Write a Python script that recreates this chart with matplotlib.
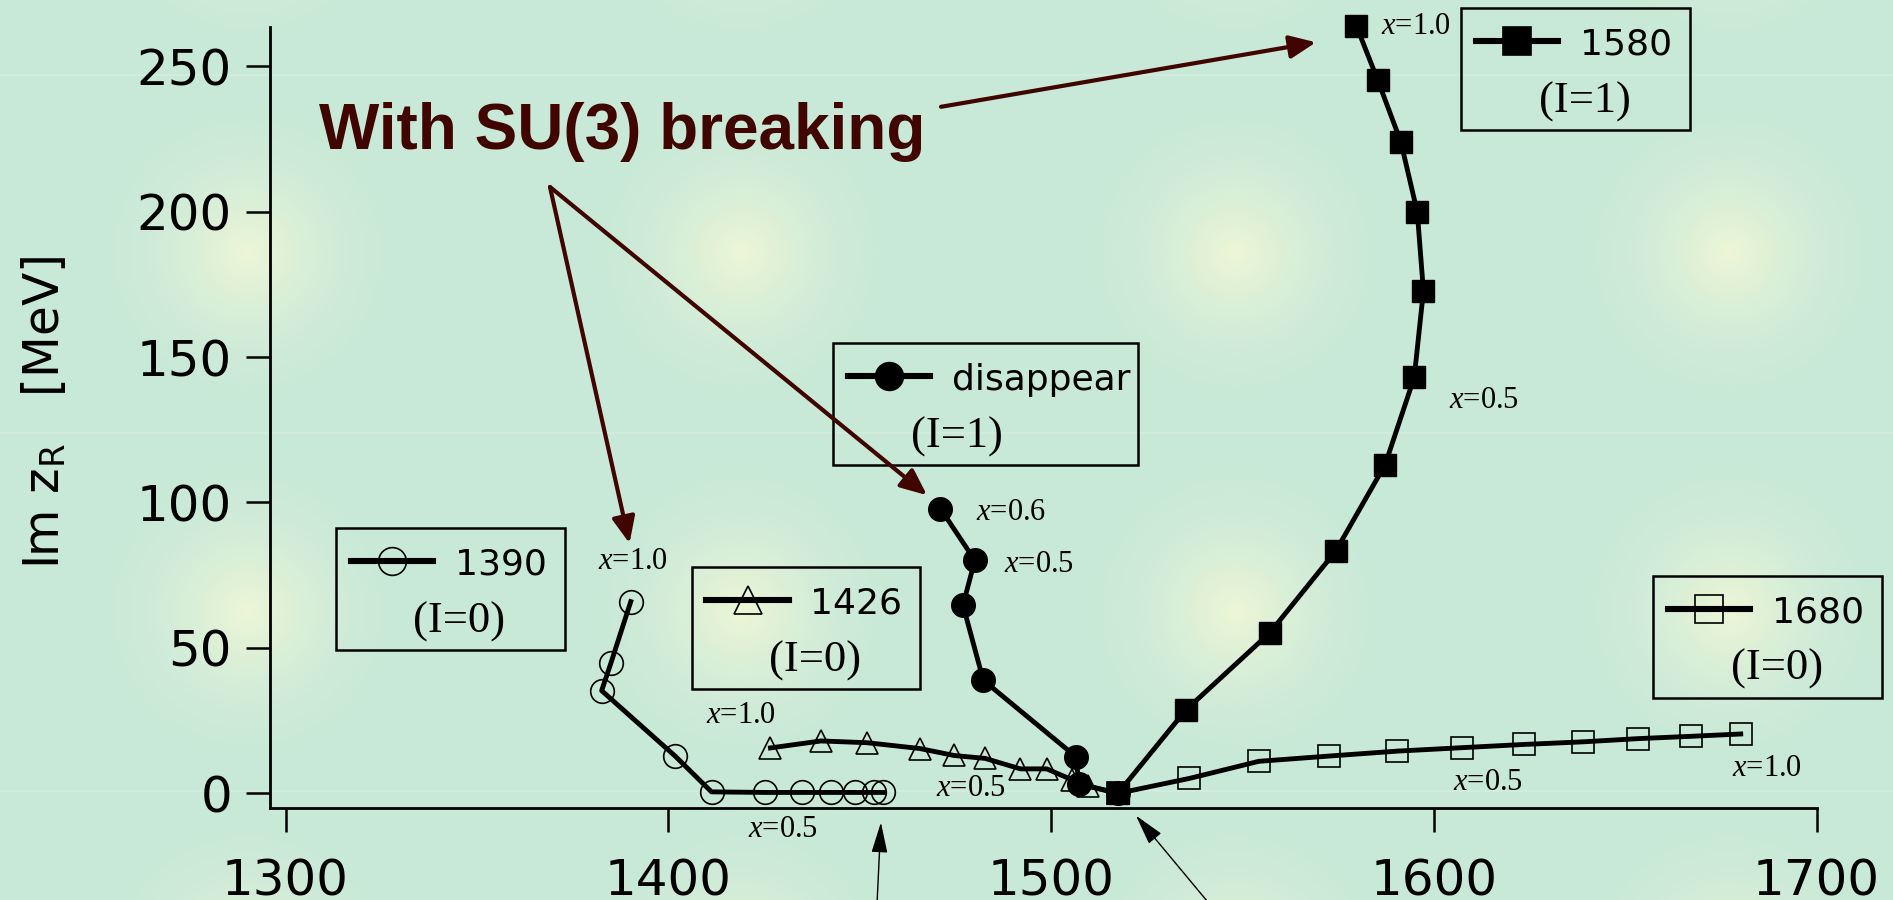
import numpy as np
import matplotlib
matplotlib.use("Agg")
import matplotlib.pyplot as plt
from matplotlib.patches import Rectangle, FancyArrowPatch
from matplotlib.lines import Line2D
from matplotlib.transforms import Affine2D

# ---------------- pole trajectories (Re z_R, Im z_R) in MeV ----------------
mass_1390 = [1390.2, 1385.0, 1382.6, 1401.8, 1411.3, 1425.2, 1435.0, 1442.6, 1448.7, 1453.8, 1456.2]
width_1390 = [65.9, 44.7, 35.3, 12.8, 0.5, 0.3, 0.3, 0.3, 0.3, 0.3, 0.3]

mass_1426 = [1426.7, 1439.9, 1451.9, 1465.7, 1474.7, 1482.8, 1492.0, 1498.9, 1505.4, 1509.7, 1517.5]
width_1426 = [15.6, 18.0, 17.4, 15.4, 13.0, 12.0, 8.4, 8.4, 4.7, 2.5, 0.0]

mass_dis = [1471.1, 1480.1, 1477.0, 1482.3, 1506.5, 1507.3, 1517.5]
width_dis = [97.9, 80.1, 64.7, 38.9, 12.6, 3.2, 0.0]

mass_1580 = [1517.5, 1535.2, 1557.1, 1574.4, 1587.3, 1594.9, 1597.3, 1595.7, 1591.4, 1585.4, 1579.8]
width_1580 = [0.0, 28.6, 55.1, 83.3, 113.0, 143.0, 172.7, 199.8, 224.0, 245.1, 263.8]

mass_1680 = [1517.5, 1536.1, 1554.3, 1572.6, 1590.4, 1607.5, 1623.6, 1639.0, 1653.4, 1667.3, 1680.2]
width_1680 = [0.0, 5.1, 11.0, 12.8, 14.5, 15.7, 16.8, 17.7, 18.8, 19.6, 20.4]

x_ticks = [1300, 1400, 1500, 1600, 1700]
y_ticks = [0, 50, 100, 150, 200, 250]

# parameter labels along the trajectories: (text, Re z, Im z)
x_labels = [
    ("$x$=1.0", 1390.8, 79.6),
    ("$x$=1.0", 1419.1, 26.9),
    ("$x$=0.5", 1429.9, -12.6),
    ("$x$=0.5", 1479.2, 1.8),
    ("$x$=0.6", 1489.5, 96.6),
    ("$x$=0.5", 1496.8, 78.8),
    ("$x$=1.0", 1595.4, 263.5),
    ("$x$=0.5", 1613.1, 135.2),
    ("$x$=0.5", 1614.3, 3.8),
    ("$x$=1.0", 1687.0, 8.6),
]

plt.rcParams.update({
    "font.family": ["DejaVu Sans"],
    "mathtext.fontset": "custom",
    "mathtext.it": "Liberation Serif:italic",
    "mathtext.rm": "Liberation Serif",
})

W, H = 1893, 900
fig = plt.figure(figsize=(W / 100, H / 100), dpi=100)

# ---------------- slide background: mint with soft tiled glows ----------------
yy, xx = np.mgrid[0:H, 0:W].astype(float)
dx = ((xx - 247 + 247) % 494) - 247
dy = ((yy - 253 + 179) % 358) - 179
r = np.hypot(dx, dy)
wgt = np.clip(1 - r / 150.0, 0, 1) ** 1.7
base = np.array([201, 233, 216]) / 255.0
glow = np.array([238, 246, 214]) / 255.0
bg = base[None, None, :] + (glow - base)[None, None, :] * wgt[..., None]
seam = (((yy - 74) % 358) < 1.5)
bg[seam] = bg[seam] * 0.6 + np.array([222, 241, 230]) / 255.0 * 0.4
fig.figimage(np.clip(bg, 0, 1), xo=0, yo=0, origin="upper", zorder=-5)

# pixel-space transform (origin top-left, y down) for annotation layout
pix = Affine2D().scale(1 / W, -1 / H).translate(0, 1) + fig.transFigure

# ---------------- axes ----------------
ax = fig.add_axes([270 / W, 1 - 808 / H, (1816.5 - 270) / W, (808 - 26.6) / H])
ax.patch.set_visible(False)
ax.set_xlim(1295.95, 1700)
ax.set_ylim(-5.05, 263.6)
for s in ("top", "right"):
    ax.spines[s].set_visible(False)
for s in ("left", "bottom"):
    ax.spines[s].set_linewidth(2.0)
ax.set_xticks(x_ticks)
ax.set_yticks(y_ticks)
ax.tick_params(direction="out", length=17.3, width=1.8, labelsize=36, colors="k")
ax.tick_params(axis="x", pad=18)
ax.tick_params(axis="y", pad=10)

lw = 3.5
ax.plot(mass_1390, width_1390, "-", color="k", lw=lw, marker="o", ms=17,
        mfc="none", mec="k", mew=1.2, clip_on=False, zorder=3)
ax.plot(mass_1426, width_1426, "-", color="k", lw=lw, marker="^", ms=16.5,
        mfc="none", mec="k", mew=1.2, clip_on=False, zorder=3)
ax.plot(mass_dis, width_dis, "-", color="k", lw=lw, marker="o", ms=17,
        mfc="k", mec="k", clip_on=False, zorder=4)
ax.plot(mass_1680, width_1680, "-", color="k", lw=lw, marker="s", ms=16,
        mfc="none", mec="k", mew=1.2, clip_on=False, zorder=4)
ax.plot(mass_1580, width_1580, "-", color="k", lw=lw, marker="s", ms=16,
        mfc="k", mec="k", clip_on=False, zorder=5)

for txt, xv, yv in x_labels:
    ax.text(xv, yv, txt, ha="center", va="center", fontsize=22,
            family="Liberation Serif", clip_on=False, zorder=6)

# ---------------- key boxes ----------------
def key(left, top, width, marker, filled, name, iso):
    fig.add_artist(Rectangle((left, top), width, 121.7, transform=pix,
                             fill=False, ec="k", lw=1.8))
    fig.add_artist(Line2D([left + 14.5, left + 56, left + 97], [top + 33] * 3,
                          transform=pix, color="k", lw=4.4, marker=marker,
                          markevery=[1], ms=20, mfc="k" if filled else "none",
                          mec="k", mew=1.2))
    fig.text(left + 119, top + 46.5, name, transform=pix, ha="left",
             va="baseline", fontsize=26)
    fig.text(left + 123.5, top + 104, iso, transform=pix, ha="center",
             va="baseline", fontsize=32, family="Liberation Serif")

key(336.0, 528.3, 228.7, "o", False, "1390", "(I=0)")
key(691.5, 567.1, 228.0, "^", False, "1426", "(I=0)")
key(833.3, 343.2, 304.7, "o", True, "disappear", "(I=1)")
key(1461.2, 8.3, 228.8, "s", True, "1580", "(I=1)")
key(1653.1, 576.0, 228.4, "s", False, "1680", "(I=0)")

# ---------------- headline and pointers ----------------
maroon = "#410500"
fig.text(319, 149, "With SU(3) breaking", transform=pix, ha="left",
         va="baseline", family="Liberation Sans", weight="bold",
         fontsize=46, color=maroon)

def arrow(p0, p1, color, lw, hl, hw):
    fig.add_artist(FancyArrowPatch(p0, p1, transform=pix,
                                   arrowstyle=f"-|>,head_length={hl},head_width={hw}",
                                   mutation_scale=1, lw=lw, color=color,
                                   shrinkA=0, shrinkB=0))

arrow((941.0, 106.8), (1316.0, 42.3), maroon, 3.0, 16, 7)
arrow((550.0, 187.0), (629.5, 543.3), maroon, 3.0, 16, 7)
arrow((550.0, 187.0), (927.0, 495.2), maroon, 3.0, 16, 7)
arrow((876.0, 925.0), (880.9, 822.4), "k", 1.0, 19, 5)
arrow((1227.0, 925.0), (1135.9, 815.5), "k", 1.0, 19, 5)

# ---------------- axis title ----------------
fig.text(45, 412, r"Im z$_\mathregular{R}$   [MeV]", transform=pix, rotation=90,
         ha="center", va="center", fontsize=35)

fig.savefig("out.png", dpi=100)
